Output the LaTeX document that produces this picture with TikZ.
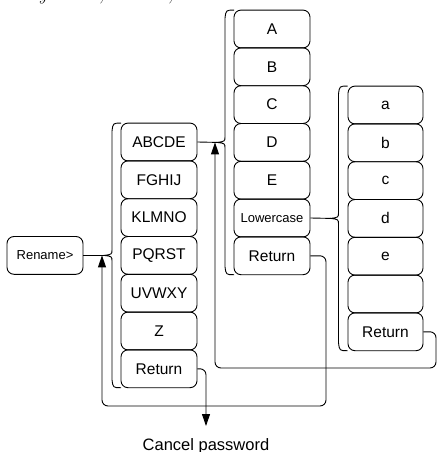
\documentclass[tikz,border=0pt]{standalone}
\usepackage{fontspec}
\newfontfamily\arialf{Liberation Sans}
\usetikzlibrary{arrows.meta}
\tikzset{
  key/.style={draw, rounded corners=7pt, line width=0.9pt, minimum width=76pt, minimum height=37.8pt, inner sep=0pt, font=\arialf\fontsize{15.5}{18}\selectfont},
  smallkey/.style={key, font=\arialf\fontsize{13}{15}\selectfont},
  conn/.style={line width=0.9pt, rounded corners=6pt},
  arr/.style={conn, -{Triangle[length=12pt,width=8pt]}},
  bracel/.style={line width=0.9pt},
  frag/.style={anchor=base west, inner sep=0pt, font=\itshape\fontsize{18}{20}\selectfont}
}
\newcommand\mybrace[4]{% body x, top y, tip y, bottom y
  \draw[bracel] ({#1+9},{#2}) .. controls ({#1+1},{#2}) .. ({#1},{#2+8}) -- ({#1},{#3-6})
    .. controls ({#1},{#3-1}) .. ({#1-8},{#3}) .. controls ({#1},{#3+1}) .. ({#1},{#3+6})
    -- ({#1},{#4-8}) .. controls ({#1+1},{#4}) .. ({#1+9},{#4});}
\begin{document}
\begin{tikzpicture}[x=1pt,y=-1pt]
\useasboundingbox (0,0) rectangle (437,452);
% fragments of a cut-off line above
\node[frag] (fy) at (38,1) {y};
\node[frag] (fc1) at (99,1) {,};
\node[frag] (fc2) at (168,1) {,};
% Rename
\node[smallkey] (ren) at (45,255.4) {Rename>};
% column 1
\foreach \t/\n [count=\i from 0] in {ABCDE/a1,FGHIJ/a2,KLMNO/a3,PQRST/a4,UVWXY/a5,Z/a6,Return/a7}
  \node[key] (\n) at (159,{142+37.8*\i}) {\t};
% column 2
\foreach \t/\n [count=\i from 0] in {A/b1,B/b2,C/b3,D/b4,E/b5}
  \node[key] (\n) at (272,{29+37.8*\i}) {\t};
\node[smallkey] (b6) at (272,{29+37.8*5}) {Lowercase};
\node[key] (b7) at (272,{29+37.8*6}) {Return};
% column 3
\foreach \t/\n [count=\i from 0] in {a/c1,b/c2,c/c3,d/c4,e/c5,{}/c6,Return/c7}
  \node[key, minimum width=75pt] (\n) at (385.5,{105+37.8*\i}) {\t};
% braces
\mybrace{112}{123.1}{255.4}{387.7}
\mybrace{225}{10.1}{142.4}{274.7}
\mybrace{338.5}{86.1}{218.4}{350.7}
\coordinate (t1) at (104,255.4);
\coordinate (t2) at (217,142.4);
\coordinate (t3) at (330.5,218.4);
\draw[conn] (ren.east) -- (t1);
\draw[conn] (a1.east) -- (t2);
\draw[conn] (b6.east) -- (t3);
% return paths
\coordinate (q3) at (436,368);
\coordinate (e3) at (215,142.4);
\draw[arr] (c7.east) -| (q3) -| (e3);
\coordinate (q2) at (326,406);
\coordinate (e2) at (102,255.4);
\draw[arr] (b7.east) -| (q2) -| (e2);
\coordinate (e1) at (206,426);
\draw[arr] (a7.east) -| (e1);
\node[anchor=base, inner sep=0pt, font=\arialf\fontsize{16.5}{19}\selectfont] (cp) at (206,450) {Cancel password};
\end{tikzpicture}
\end{document}
